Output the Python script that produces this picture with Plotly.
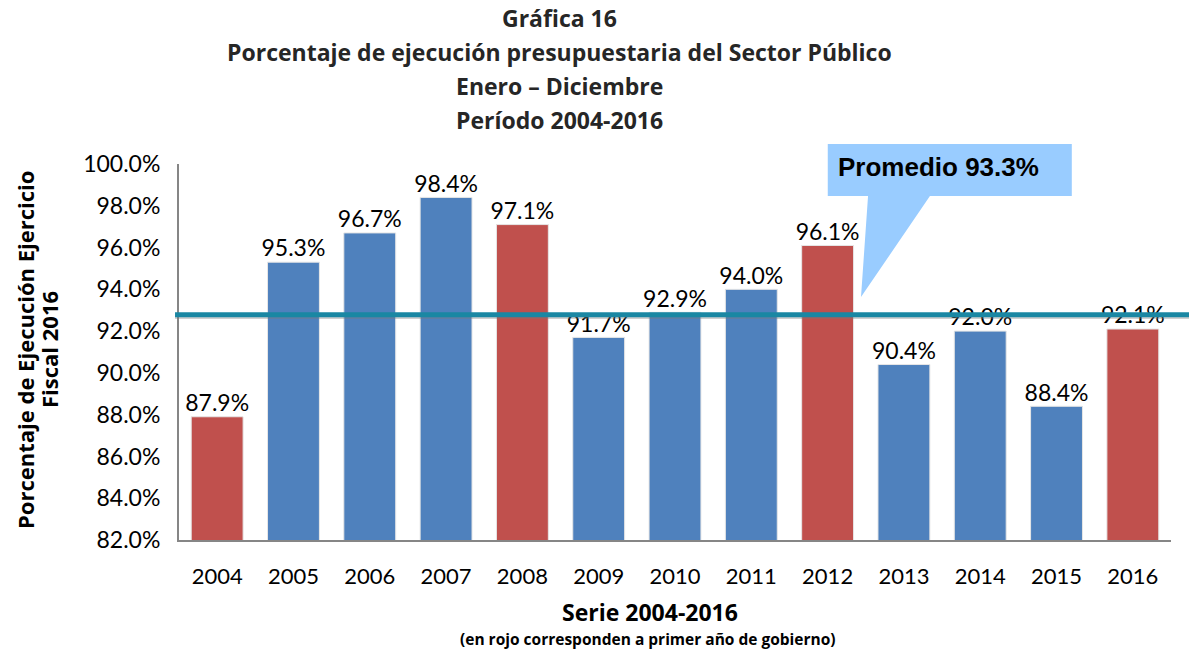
import plotly.graph_objects as go

years = ["2004", "2005", "2006", "2007", "2008", "2009", "2010",
         "2011", "2012", "2013", "2014", "2015", "2016"]
ejecucion = [87.9, 95.3, 96.7, 98.4, 97.1, 91.7, 92.9, 94.0, 96.1, 90.4, 92.0, 88.4, 92.1]
primer_anio = ["2004", "2008", "2012", "2016"]
linea_promedio = 92.78
texto_promedio = "Promedio 93.3%"

title_lines = ["Gráfica 16",
               "Porcentaje de ejecución presupuestaria del Sector Público",
               "Enero – Diciembre",
               "Período 2004-2016"]

RED = "#c0504d"
BLUE = "#4f81bd"
colors = [RED if y in primer_anio else BLUE for y in years]

FONT = "Lato"
BOLD = "Open Sans"

fig = go.Figure()
fig.add_trace(go.Bar(
    x=years, y=ejecucion,
    marker=dict(color=colors, line=dict(color="#e6e6e6", width=1)),
))
# etiquetas de datos
fig.add_trace(go.Scatter(
    x=years, y=ejecucion, mode="text",
    text=[f"{v:.1f}%" for v in ejecucion],
    textposition="top center",
    textfont=dict(family=FONT, size=23, color="#000000"),
    marker=dict(size=14),
    cliponaxis=False, hoverinfo="skip",
))

fig.update_layout(
    width=1189, height=651,
    margin=dict(l=179, r=18, t=164, b=111),
    plot_bgcolor="white", paper_bgcolor="white",
    bargap=0.32, showlegend=False,
    font=dict(family=FONT, color="#000000"),
)
fig.update_yaxes(
    range=[82, 100], dtick=2, tickformat=".1f", ticksuffix="%",
    showgrid=False, showline=True, linecolor="#868686", linewidth=2,
    tickfont=dict(family=FONT, size=23), ticks="", ticklabelstandoff=12,
    zeroline=False,
)
fig.update_xaxes(
    range=[-0.5, len(years) - 0.5],
    showgrid=False, showline=True, linecolor="#868686", linewidth=2,
    tickfont=dict(family=FONT, size=22), ticks="", ticklabelstandoff=16,
)

# línea de promedio (con sombra)
fig.add_shape(type="line", xref="paper", yref="y", x0=-0.004, x1=1.02,
              y0=linea_promedio - 0.1, y1=linea_promedio - 0.1,
              line=dict(color="rgba(120,120,120,0.35)", width=4), layer="above")
fig.add_shape(type="line", xref="paper", yref="y", x0=-0.004, x1=1.02,
              y0=linea_promedio, y1=linea_promedio,
              line=dict(color="#1a87a3", width=5), layer="above")

# globo de texto
fig.add_shape(type="path", xref="paper", yref="paper",
              path="M 0.654 1.053 L 0.900 1.053 L 0.900 0.915 L 0.757 0.915 "
                   "L 0.6875 0.646 L 0.6946 0.915 L 0.654 0.915 Z",
              fillcolor="#99ccff", line=dict(width=0), layer="above")
fig.add_annotation(xref="paper", yref="paper", x=(836 - 179) / 992, y=(540 - 167) / 376,
                   xanchor="left", yanchor="middle", showarrow=False,
                   text=f"<b>{texto_promedio}</b>",
                   font=dict(family="Liberation Sans", size=26, color="#000000"))

# títulos
for i, line in enumerate(title_lines):
    fig.add_annotation(xref="paper", yref="paper", x=(559 - 179) / 992,
                       y=(540 - (18 + 34 * i)) / 376, xanchor="center",
                       yanchor="middle", showarrow=False, text=f"<b>{line}</b>",
                       font=dict(family=BOLD, size=23, color="#262626"))

# títulos de ejes
fig.add_annotation(xref="paper", yref="paper", x=(25 - 179) / 992, y=(540 - 350) / 376,
                   xanchor="center", yanchor="middle", showarrow=False, textangle=-90,
                   text="<b>Porcentaje de Ejecución Ejercicio</b>",
                   font=dict(family=BOLD, size=22))
fig.add_annotation(xref="paper", yref="paper", x=(49 - 179) / 992, y=(540 - 350) / 376,
                   xanchor="center", yanchor="middle", showarrow=False, textangle=-90,
                   text="<b>Fiscal 2016</b>",
                   font=dict(family=BOLD, size=22))
fig.add_annotation(xref="paper", yref="paper", x=(650 - 179) / 992, y=(540 - 612) / 376,
                   xanchor="center", yanchor="middle", showarrow=False,
                   text="<b>Serie 2004-2016</b>", font=dict(family=BOLD, size=23))
fig.add_annotation(xref="paper", yref="paper", x=(648 - 179) / 992, y=(540 - 639) / 376,
                   xanchor="center", yanchor="middle", showarrow=False,
                   text="<b>(en rojo corresponden a primer año de gobierno)</b>",
                   font=dict(family=BOLD, size=15.5))

fig.write_html("out.html", config={"displayModeBar": False},
               post_script="document.body.style.margin='0px';")
